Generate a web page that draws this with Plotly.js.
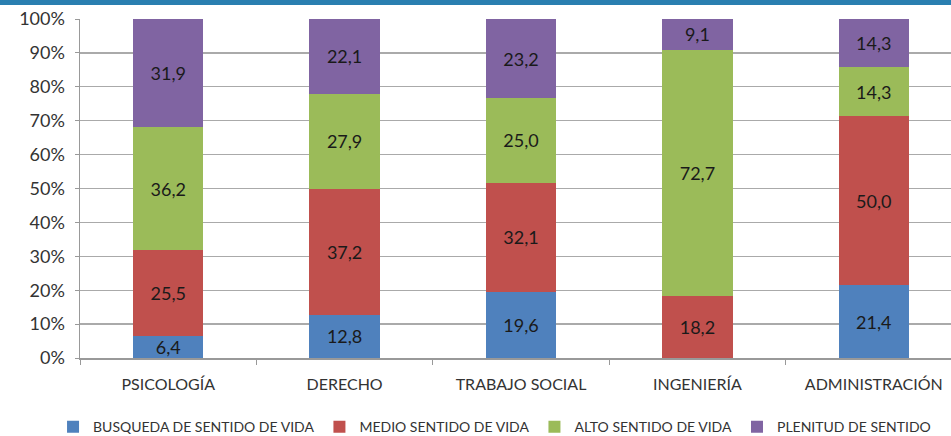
<!DOCTYPE html>
<html><head><meta charset="utf-8">
<script src="https://cdn.plot.ly/plotly-3.0.1.min.js"></script>
<style>html,body{margin:0;padding:0;overflow:hidden;background:#fff;width:951px;height:436px}
#band{position:absolute;left:0;top:0;width:951px;height:5px;background:#2A7FB0;z-index:10}
#chart{position:absolute;left:0;top:0}</style>
</head><body><div id="band"></div><div id="chart"></div>
<script>
const categories = ['PSICOLOGÍA','DERECHO','TRABAJO SOCIAL','INGENIERÍA','ADMINISTRACIÓN'];
const busqueda = [6.4, 12.8, 19.6, 0, 21.4];
const medio = [25.5, 37.2, 32.1, 18.2, 50.0];
const alto = [36.2, 27.9, 25.0, 72.7, 14.3];
const plenitud = [31.9, 22.1, 23.2, 9.1, 14.3];
const seriesNames = ['BUSQUEDA DE SENTIDO DE VIDA','MEDIO SENTIDO DE VIDA','ALTO SENTIDO DE VIDA','PLENITUD DE SENTIDO'];
const colors = ['#4F81BD','#C0504D','#9BBB59','#8064A2'];
const yTicks = [0,10,20,30,40,50,60,70,80,90,100];
const yTickLabels = yTicks.map(v => v + '%');

const font = 'Lato, "Open Sans", sans-serif';
const data = [busqueda, medio, alto, plenitud].map((vals, i) => ({
  type: 'bar', name: seriesNames[i], x: categories, y: vals,
  marker: {color: colors[i]},
  text: vals.map(v => v > 0 ? v.toFixed(1).replace('.', ',') : ''),
  textposition: 'inside', insidetextanchor: 'middle', textangle: 0, constraintext: 'none',
  textfont: {family: font, size: 18, color: '#1a1a1a'},
  hoverinfo: 'none'
}));
const layout = {
  width: 962, height: 446, barmode: 'stack', bargap: 0.6,
  margin: {l: 80, r: 0, t: 19, b: 88},
  paper_bgcolor: '#fff', plot_bgcolor: '#fff',
  font: {family: font, color: '#333'},
  xaxis: {tickfont: {size: 16, color: '#333'}, showline: true, linecolor: '#999', linewidth: 1.5,
    ticks: 'outside', tickson: 'boundaries', ticklen: 5, tickcolor: '#999', showgrid: false,
    ticklabelstandoff: 11, automargin: false},
  yaxis: {range: [0, 100], tickmode: 'array', tickvals: yTicks, ticktext: yTickLabels, tickfont: {size: 18, color: '#333'},
    showline: true, linecolor: '#999', linewidth: 1.5, gridcolor: '#aaa', gridwidth: 1.3,
    ticks: 'outside', ticklen: 4, tickcolor: '#999', zeroline: false, automargin: false,
    ticklabelstandoff: 6},
  showlegend: true,
  legend: {orientation: 'h', x: 0.47, xanchor: 'center', y: -0.204, yanchor: 'middle',
    font: {size: 14, color: '#333'}, traceorder: 'normal', itemwidth: 30},
  uniformtext: {mode: 'show', minsize: 18}
};
Plotly.newPlot('chart', data, layout, {displayModeBar: false, staticPlot: true});
</script></body></html>
